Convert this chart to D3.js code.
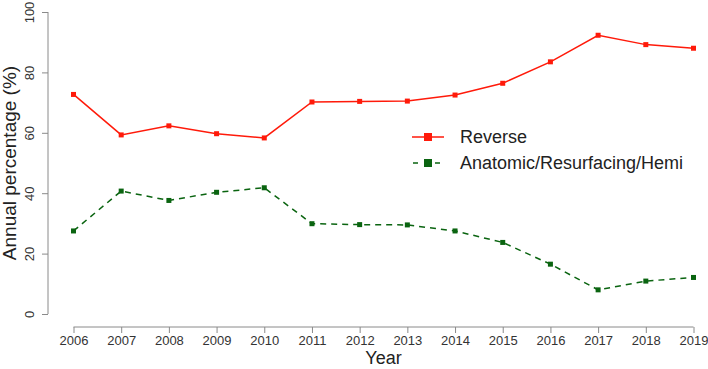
<!DOCTYPE html>
<html lang="en">
<head>
  <meta charset="UTF-8">
  <title>Annual percentage by year</title>
  <style>
    body { margin: 0; background: #fff; }
    svg { font-family: "Liberation Sans", Arial, sans-serif; }
    .axis path, .axis line { stroke: #8a8a8a; }
    .axis text { fill: #333; font-size: 13px; }
  </style>
</head>
<body>
  <script src="https://d3js.org/d3.v7.min.js"></script>
  <script>
    const years = [2006, 2007, 2008, 2009, 2010, 2011, 2012, 2013, 2014, 2015, 2016, 2017, 2018, 2019];
    const reverse = [72.7, 59.3, 62.3, 59.7, 58.3, 70.2, 70.4, 70.5, 72.5, 76.4, 83.5, 92.3, 89.2, 88.0];
    const anatomic = [27.5, 40.7, 37.6, 40.3, 41.8, 29.9, 29.6, 29.5, 27.5, 23.7, 16.5, 8.0, 10.9, 12.1];
    const yTicks = [0, 20, 40, 60, 80, 100];

    const series = [
      { name: "Reverse", values: reverse, color: "#ff1a0a", dash: null },
      { name: "Anatomic/Resurfacing/Hemi", values: anatomic, color: "#0a6410", dash: "6,5" }
    ];

    const width = 708, height = 369;
    const svg = d3.select("body").append("svg").attr("width", width).attr("height", height);

    const x = d3.scaleLinear().domain([2006, 2019]).range([73.5, 693.5]);
    const y = d3.scaleLinear().domain([0, 100]).range([314, 12]);

    // y axis, R style: line only spans the tick range
    const yAxis = svg.append("g").attr("class", "axis").attr("transform", "translate(48,0)")
      .call(d3.axisLeft(y).tickValues(yTicks).tickSize(6).tickSizeOuter(0));
    yAxis.select(".domain").attr("d", `M0,${y(0)}V${y(100)}`);
    yAxis.selectAll(".tick text")
      .attr("x", null).attr("y", null).attr("dy", "0")
      .attr("text-anchor", "middle")
      .attr("transform", "translate(-14,0) rotate(-90)");

    const xAxis = svg.append("g").attr("class", "axis").attr("transform", "translate(0,327)")
      .call(d3.axisBottom(x).tickValues(years).tickFormat(d3.format("d")).tickSize(6).tickSizeOuter(0));
    xAxis.select(".domain").attr("d", `M${x(2006)},0H${x(2019)}`);
    xAxis.selectAll(".tick text").attr("y", 9).attr("dy", "0.71em");

    svg.append("text")
      .attr("transform", `translate(16,${(y(0) + y(100)) / 2}) rotate(-90)`)
      .attr("text-anchor", "middle")
      .attr("font-size", 19).attr("fill", "#222")
      .text("Annual percentage (%)");

    svg.append("text")
      .attr("x", (x(2006) + x(2019)) / 2).attr("y", 364)
      .attr("text-anchor", "middle")
      .attr("font-size", 18).attr("fill", "#222")
      .text("Year");

    const line = d3.line().x((d, i) => x(years[i])).y(d => y(d));

    series.forEach(s => {
      svg.append("path")
        .datum(s.values)
        .attr("fill", "none")
        .attr("stroke", s.color)
        .attr("stroke-width", 1.5)
        .attr("stroke-dasharray", s.dash)
        .attr("d", line);
      svg.append("g").selectAll("rect")
        .data(s.values).join("rect")
        .attr("x", (d, i) => x(years[i]) - 2.5)
        .attr("y", d => y(d) - 2.5)
        .attr("width", 5).attr("height", 5)
        .attr("fill", s.color);
    });

    // legend
    const legend = svg.append("g").attr("transform", "translate(412,137)");
    series.forEach((s, i) => {
      const g = legend.append("g").attr("transform", `translate(0,${i * 26})`);
      g.append("line")
        .attr("x1", 0).attr("x2", 32).attr("y1", 0).attr("y2", 0)
        .attr("stroke", s.color).attr("stroke-width", 1.5)
        .attr("stroke-dasharray", s.dash ? "5,6" : null)
        .attr("stroke-dashoffset", s.dash ? -1 : null);
      g.append("rect")
        .attr("x", 12).attr("y", -4).attr("width", 8).attr("height", 8)
        .attr("fill", s.color);
      g.append("text")
        .attr("x", 48).attr("y", 0).attr("dy", "0.35em")
        .attr("font-size", 18).attr("fill", "#222")
        .text(s.name);
    });
  </script>
</body>
</html>
